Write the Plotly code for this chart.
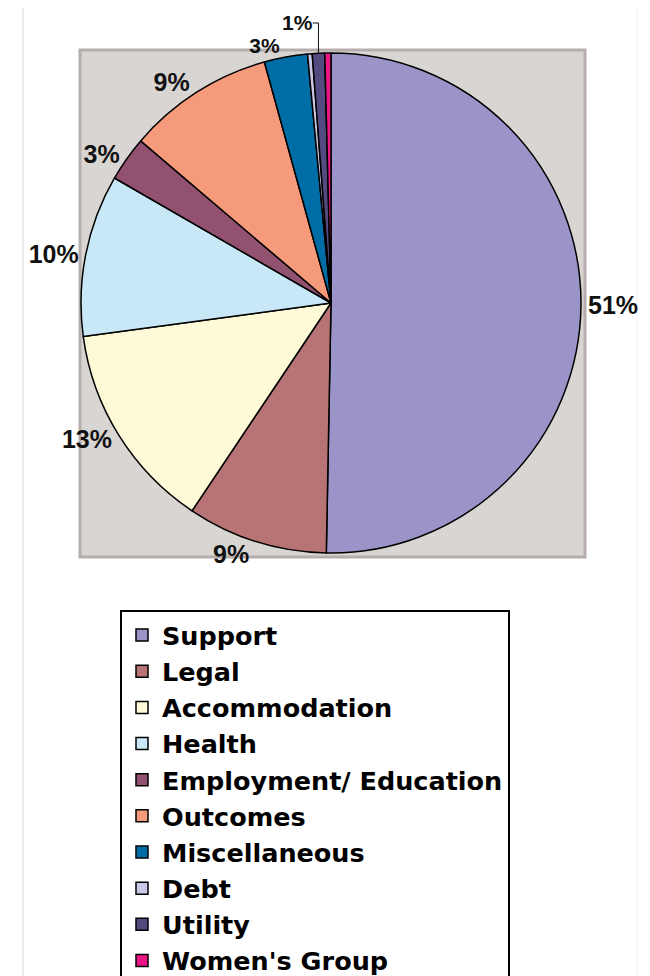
import plotly.graph_objects as go

categories = ["Support", "Legal", "Accommodation", "Health", "Employment/ Education",
              "Outcomes", "Miscellaneous", "Debt", "Utility", "Women's Group"]
values = [50.4, 9.1, 13.5, 10.5, 2.9, 9.5, 2.8, 0.3, 0.8, 0.4]
pct_labels = ["51%", "9%", "13%", "10%", "3%", "9%", "3%", "", "1%", ""]
colors = ["#9b94c8", "#b87474", "#fef9d6", "#c8e8f8", "#935170",
          "#f59a7b", "#006ea6", "#cac8e8", "#554a80", "#ec1586"]
label_sizes = [25, 25, 25, 25, 25, 25, 21, 21, 21, 21]

# page body has an 8px margin; work in reference pixel coords and shift
OFF = 8
W, H = 650 - OFF, 976 - OFF
cx, cy, r = 331 - OFF, 303 - OFF, 250


def px(x):
    return (x - OFF) / W


def py(y):
    return 1 - (y - OFF) / H


fig = go.Figure()
fig.add_trace(go.Pie(
    labels=categories,
    values=values,
    text=pct_labels,
    textinfo="text",
    textposition="outside",
    sort=False,
    direction="clockwise",
    rotation=0,
    marker=dict(colors=colors, line=dict(color="#000000", width=1.5)),
    outsidetextfont=dict(family="Liberation Sans", size=label_sizes, color="#111111", weight="bold"),
    domain=dict(x=[(cx - r) / W, (cx + r) / W], y=[1 - (cy + r) / H, 1 - (cy - r) / H]),
    showlegend=True,
    hoverinfo="label+percent",
))

fig.update_layout(
    width=W, height=H,
    margin=dict(l=0, r=0, t=0, b=0, autoexpand=False),
    paper_bgcolor="white",
    plot_bgcolor="white",
    shapes=[
        dict(type="rect", xref="paper", yref="paper",
             x0=px(80), x1=px(585), y0=py(557), y1=py(50),
             fillcolor="#d9d5d2", line=dict(color="#b6aeac", width=3), layer="below"),
        dict(type="line", xref="paper", yref="paper",
             x0=px(23), x1=px(23), y0=0, y1=1, line=dict(color="#d8d8d8", width=1), layer="below"),
        dict(type="line", xref="paper", yref="paper",
             x0=px(637), x1=px(637), y0=0, y1=1, line=dict(color="#eeeeee", width=1), layer="below"),
    ],
    legend=dict(
        x=px(120), y=py(610), xanchor="left", yanchor="top",
        bgcolor="white", bordercolor="#000000", borderwidth=2,
        font=dict(family="DejaVu Sans", size=25.5, color="#000000", weight="bold"),
        traceorder="normal",
    ),
)

fig.write_html("out.html")
